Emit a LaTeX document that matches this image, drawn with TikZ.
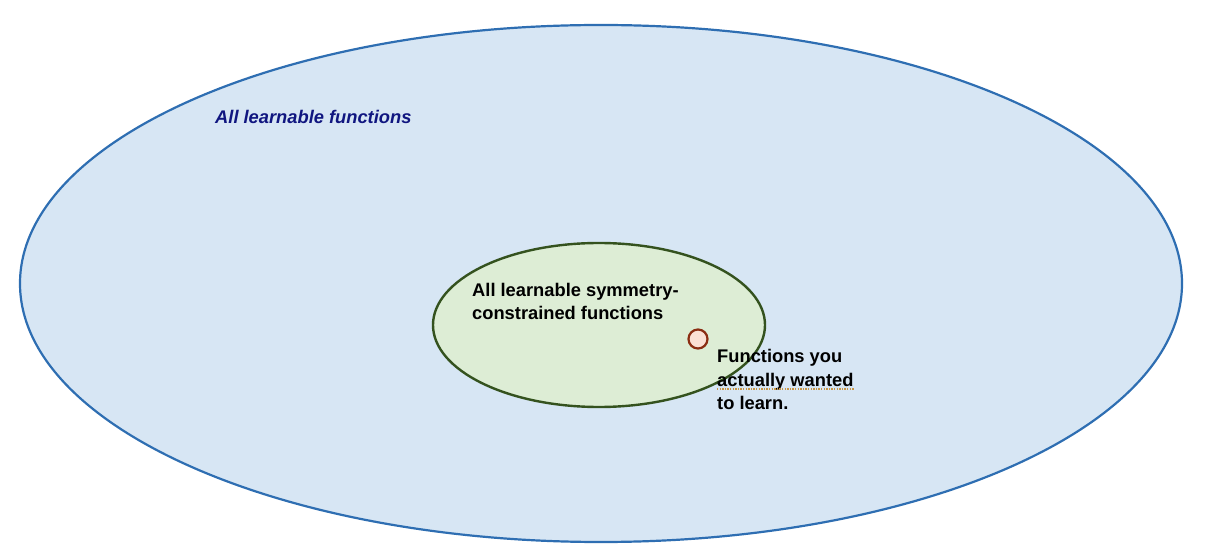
\documentclass[tikz,border=0pt]{standalone}
\usepackage{fontspec}
\setmainfont{Liberation Sans}
\usetikzlibrary{shapes.geometric}
\definecolor{outerline}{RGB}{46,110,178}
\definecolor{outerfill}{RGB}{215,230,244}
\definecolor{innerline}{RGB}{52,82,30}
\definecolor{innerfill}{RGB}{221,237,213}
\definecolor{dotline}{RGB}{139,45,18}
\definecolor{dotfill}{RGB}{251,224,212}
\definecolor{navytext}{RGB}{16,22,128}
\definecolor{spellmark}{RGB}{200,150,70}
\begin{document}
\begin{tikzpicture}[
    x=1bp, y=-1bp,
    every node/.style={font=\fontsize{18.3bp}{23bp}\selectfont\bfseries},
    outerset/.style={ellipse, draw=outerline, fill=outerfill, line width=2.2bp,
      minimum width=1162bp, minimum height=517bp, inner sep=0},
    innerset/.style={ellipse, draw=innerline, fill=innerfill, line width=2.4bp,
      minimum width=332bp, minimum height=164bp, inner sep=0},
    target/.style={circle, draw=dotline, fill=dotfill, line width=2.2bp,
      minimum size=19bp, inner sep=0},
    lbl/.style={align=left, inner sep=0, anchor=base west},
  ]
  \useasboundingbox (0,0) rectangle (1212,557);
  \node[outerset] (learnable) at (601,283.5) {};
  \node[innerset] (symmetric) at (599,325) {};
  \node[target] (wanted) at (698,339) {};
  % multi-line labels sit on the baseline of their last line
  \node[lbl, text=navytext, font=\fontsize{18.3bp}{23bp}\selectfont\bfseries\itshape]
    (learnablelbl) at (215,124) {All learnable functions};
  \node[lbl] (symmetriclbl) at (472,320) {All learnable symmetry-\\constrained functions};
  \node[lbl] (wantedlbl) at (717,409) {Functions you\\actually wanted\\to learn.};
  % spell-check mark under the second line
  \coordinate (markstart) at (717,389);
  \coordinate (markend) at (854,389);
  \draw[spellmark, line width=1.3bp, dash pattern=on 1.3bp off 1.3bp] (markstart) -- (markend);
\end{tikzpicture}
\end{document}
